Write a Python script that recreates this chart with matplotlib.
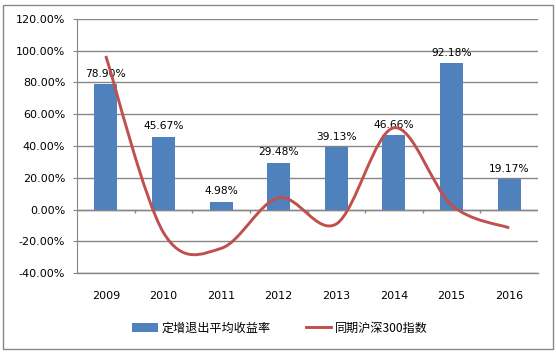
import numpy as np
import matplotlib
matplotlib.use('Agg')
import matplotlib.pyplot as plt
from matplotlib.path import Path
from matplotlib.patches import PathPatch, Rectangle
from matplotlib.lines import Line2D
from matplotlib.patches import Patch

plt.rcParams['font.family'] = ['DejaVu Sans', 'Noto Sans CJK SC']

# data
years = ['2009', '2010', '2011', '2012', '2013', '2014', '2015', '2016']
exit_return = [78.90, 45.67, 4.98, 29.48, 39.13, 46.66, 92.18, 19.17]
hs300 = [96.7, -14.5, -24.5, 7.4, -9.1, 51.5, 2.8, -11.6]
bar_label = '定增退出平均收益率'
line_label = '同期沪深300指数'

bar_color = '#4F81BD'
line_color = '#C0504D'
grid_color = '#868686'

fig = plt.figure(figsize=(5.56, 3.53), dpi=100)
fig.patches.append(Rectangle((3/556, 1-349/353), 550/556, 344/353, transform=fig.transFigure,
                             fill=False, edgecolor=grid_color, linewidth=1.0))
ax = fig.add_axes([77/556, 1-273/353, 461/556, 254/353])

x = np.arange(len(years))
bars = ax.bar(x, exit_return, width=0.4, color=bar_color, zorder=2)
for xi, v in zip(x, exit_return):
    ax.annotate(f'{v:.2f}%', (xi, v), xytext=(0, 4), textcoords='offset points',
                ha='center', va='bottom', fontsize=7.7, color='black')

# smoothed line (Excel-style bezier through points)
pts = np.column_stack([x, hs300]).astype(float)
verts = [pts[0]]
codes = [Path.MOVETO]
n = len(pts)
for i in range(n - 1):
    p0 = pts[i - 1] if i > 0 else pts[i]
    p1 = pts[i]
    p2 = pts[i + 1]
    p3 = pts[i + 2] if i + 2 < n else pts[i + 1]
    c1 = p1 + (p2 - p0) / 6
    c2 = p2 - (p3 - p1) / 6
    verts += [c1, c2, p2]
    codes += [Path.CURVE4] * 3
ax.add_patch(PathPatch(Path(verts, codes), fill=False, edgecolor=line_color,
                       linewidth=2.1, zorder=3, capstyle='butt'))

ax.set_xlim(-0.5, len(years) - 0.5)
ax.set_ylim(-40, 120)
ax.set_yticks(np.arange(-40, 121, 20))
ax.set_yticklabels([f'{v:.2f}%' for v in np.arange(-40, 121, 20)])
ax.yaxis.grid(True, color=grid_color, linewidth=1.0)
ax.set_axisbelow(True)
ax.set_xticks(x)
ax.set_xticklabels(years)
ax.tick_params(axis='x', length=0, pad=13, labelsize=8)
ax.tick_params(axis='y', length=3, color=grid_color, pad=5.5, labelsize=8)
for s in ['top', 'right', 'bottom']:
    ax.spines[s].set_visible(False)
ax.spines['left'].set_color(grid_color)

# category ticks on the zero line, bottom gridline
ax.vlines(np.arange(0.5, len(years) - 0.5), 0, -2.5, color=grid_color, linewidth=1.0, zorder=1)
ax.axhline(0, color=grid_color, linewidth=1.0, zorder=1)
ax.axhline(-40, color=grid_color, linewidth=1.0, zorder=1, clip_on=False)

handles = [Patch(facecolor=bar_color, edgecolor='none'),
           Line2D([0], [0], color=line_color, linewidth=2.1)]
fig.legend(handles, [bar_label, line_label], loc='center', bbox_to_anchor=(0.5 + 2/556, 1-328/353),
           ncol=2, frameon=False, columnspacing=2.9, handlelength=2.1, handletextpad=0.3,
           prop={'family': ['Noto Sans CJK SC', 'DejaVu Sans'], 'size': 8.7})

fig.savefig('out.png', dpi=100)
